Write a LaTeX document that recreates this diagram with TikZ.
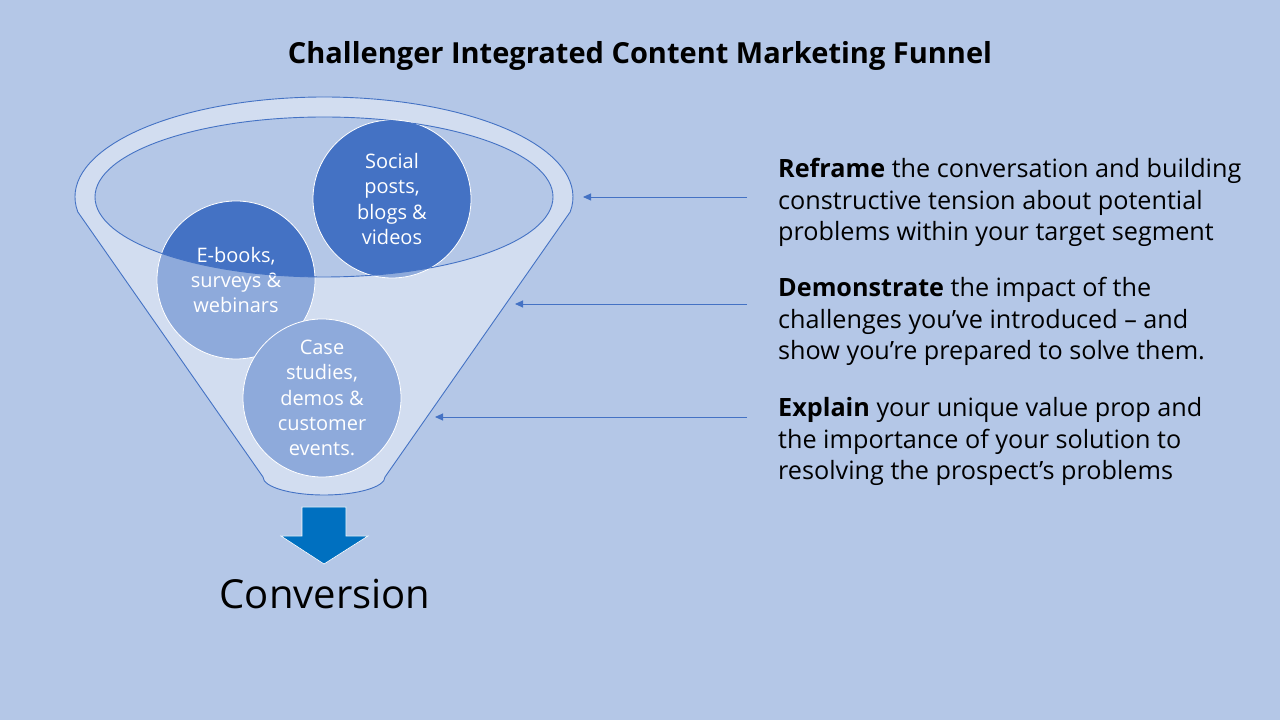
\documentclass[tikz,border=0pt]{standalone}
\usepackage{fontspec}
\setmainfont{Open Sans}
\usetikzlibrary{arrows.meta,positioning}
\definecolor{slideblue}{HTML}{B4C7E7}
\definecolor{accentblue}{HTML}{4472C4}
\definecolor{arrowblue}{HTML}{0070C0}

\begin{document}
\begin{tikzpicture}[
  x=1pt,y=1pt,
  bubble/.style={circle,fill=accentblue,draw=white,line width=0.8pt,minimum size=158pt,
    inner sep=0pt,align=center,text=white,font=\fontsize{20}{25.3}\selectfont},
  note/.style={anchor=base west,align=left,inner sep=0pt,font=\fontsize{25.2}{31.6}\selectfont},
  pointer/.style={-{Triangle[length=8pt,width=7pt]},draw=accentblue,line width=0.9pt},
  rim/.style={draw=accentblue,line width=0.9pt}
]
\fill[slideblue] (0,0) rectangle (1280,720);
\useasboundingbox (0,0) rectangle (1280,720);

\node[font=\bfseries\fontsize{29}{34}\selectfont,anchor=base] (title) at (640,656)
  {Challenger Integrated Content Marketing Funnel};

% content bubbles
\node[bubble] (social) at (392,521) {Social\\posts,\\blogs \&\\videos};
\node[bubble] (ebooks) at (236,440) {E-books,\\surveys \&\\webinars};
\node[bubble] (cases) at (322,322) {Case\\studies,\\demos \&\\customer\\events.};

% funnel body over the bubbles
\fill[white,fill opacity=0.4,even odd rule]
  ([shift={(324,523)}]188.6:249 and 100)
  arc[start angle=188.6,end angle=-8.6,x radius=249,y radius=100]
  -- (385,243) arc[start angle=0,end angle=-180,x radius=61,y radius=18] -- cycle
  (324,523) ellipse[x radius=229,y radius=80];
\draw[rim] ([shift={(324,523)}]188.6:249 and 100)
  arc[start angle=188.6,end angle=-8.6,x radius=249,y radius=100]
  -- (385,243) arc[start angle=0,end angle=-180,x radius=61,y radius=18] -- cycle;
\draw[rim] (324,523) ellipse[x radius=229,y radius=80];

% down arrow
\filldraw[fill=arrowblue,draw=white,line width=0.6pt]
  (302,213) -- (346,213) -- (346,184) -- (368,184) -- (324,156)
  -- (281,184) -- (302,184) -- cycle;
\node[font=\fontsize{40}{48}\selectfont,anchor=base] (conversion) at (325,111) {Conversion};

% messages (anchored on the last line)
\node[note] (reframe) at (778,479)
  {\textbf{Reframe} the conversation and building\\constructive tension about potential\\problems within your target segment};
\node[note] (demonstrate) at (778,360)
  {\textbf{Demonstrate} the impact of the\\challenges you’ve introduced – and\\show you’re prepared to solve them.};
\node[note] (explain) at (778,240)
  {\textbf{Explain} your unique value prop and\\the importance of your solution to\\resolving the prospect’s problems};

\coordinate (tailA) at (747,523);
\coordinate (tipA) at (583,523);
\coordinate (tailB) at (747,416);
\coordinate (tipB) at (515,416);
\coordinate (tailC) at (747,303);
\coordinate (tipC) at (435,303);
\draw[pointer] (tailA) -- (tipA);
\draw[pointer] (tailB) -- (tipB);
\draw[pointer] (tailC) -- (tipC);
\end{tikzpicture}
\end{document}
